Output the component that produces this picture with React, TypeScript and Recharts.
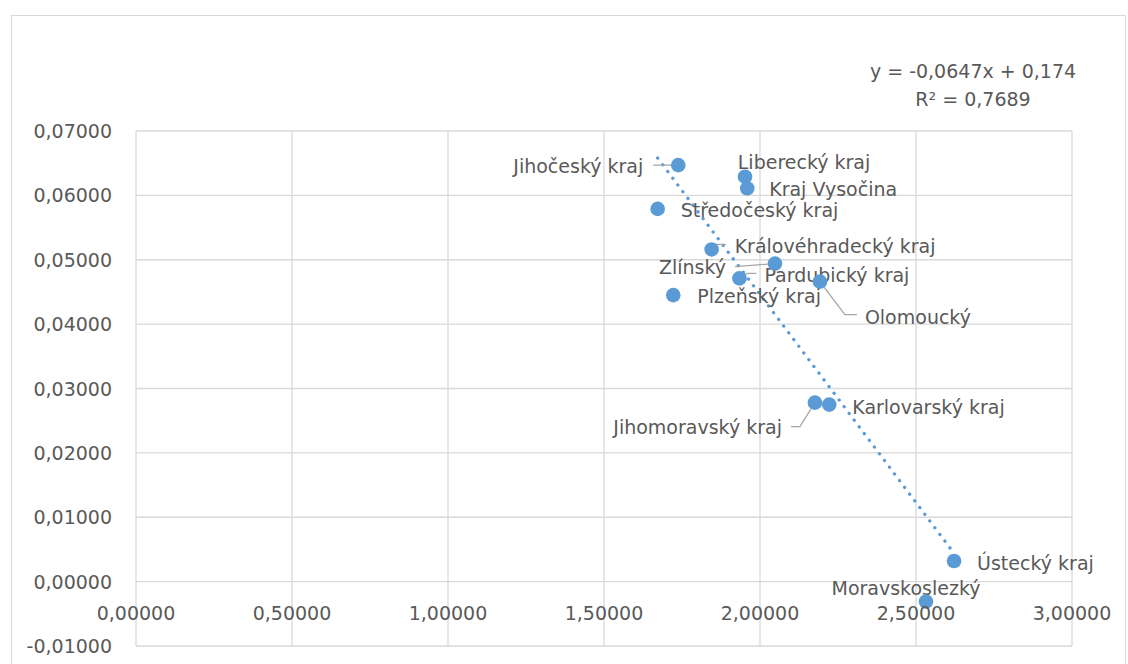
import React from "react";
import { ScatterChart, Scatter, XAxis, YAxis, CartesianGrid } from "recharts";

const regions = [
  "Jihočeský kraj",
  "Liberecký kraj",
  "Kraj Vysočina",
  "Středočeský kraj",
  "Královéhradecký kraj",
  "Zlínský",
  "Pardubický kraj",
  "Plzeňský kraj",
  "Olomoucký",
  "Jihomoravský kraj",
  "Karlovarský kraj",
  "Ústecký kraj",
  "Moravskoslezký",
];
const xValues = [1.738, 1.952, 1.959, 1.672, 1.845, 2.048, 1.934, 1.722, 2.192, 2.176, 2.222, 2.622, 2.532];
const yValues = [0.0647, 0.0629, 0.0611, 0.0579, 0.0516, 0.0494, 0.0471, 0.0445, 0.0466, 0.0278, 0.0275, 0.0032, -0.0031];

const xTicks = [0, 0.5, 1, 1.5, 2, 2.5, 3];
const yTicks = [-0.01, 0, 0.01, 0.02, 0.03, 0.04, 0.05, 0.06, 0.07];

const trendX = [1.672, 2.622];
const trendY = [0.0658, 0.0044];
const equationText = "y = -0,0647x + 0,174";
const r2Text = "R² = 0,7689";

const data = regions.map((name, i) => ({ name, x: xValues[i], y: yValues[i] }));
const trendData = trendX.map((x, i) => ({ x, y: trendY[i] }));

const FONT = "DejaVu Sans";
const FS = 19;
const TEXT = "#595959";
const GRID = "#D9D9D9";
const BLUE = "#5B9BD5";
const LEADER = "#A6A6A6";

type Layout = { anchor: "start" | "middle" | "end"; dx: number; dy: number; leader?: number[][] };
const labelLayout: Record<string, Layout> = {
  "Jihočeský kraj": { anchor: "end", dx: -35, dy: 1, leader: [[-25, 0], [0, 0]] },
  "Liberecký kraj": { anchor: "middle", dx: 59, dy: -15 },
  "Kraj Vysočina": { anchor: "start", dx: 22, dy: 1 },
  "Středočeský kraj": { anchor: "start", dx: 23, dy: 1 },
  "Královéhradecký kraj": { anchor: "start", dx: 23, dy: -3, leader: [[0, 0], [5, -5], [14, -5]] },
  "Zlínský": { anchor: "end", dx: -49, dy: 3, leader: [[-40, 3], [0, 0]] },
  "Pardubický kraj": { anchor: "start", dx: 25, dy: -3, leader: [[17, -5], [8, -5], [0, 0]] },
  "Plzeňský kraj": { anchor: "start", dx: 24, dy: 1 },
  "Olomoucký": { anchor: "start", dx: 45, dy: 35, leader: [[0, 0], [25, 33], [37, 33]] },
  "Jihomoravský kraj": { anchor: "end", dx: -33, dy: 24, leader: [[-24, 24], [-15, 24], [0, 0]] },
  "Karlovarský kraj": { anchor: "start", dx: 23, dy: 2 },
  "Ústecký kraj": { anchor: "start", dx: 23, dy: 2 },
  "Moravskoslezký": { anchor: "middle", dx: -20, dy: -14 },
};

const fmt = (v: number) => {
  const s = Math.abs(v).toFixed(5).replace(".", ",");
  return (v < -1e-9 ? "-" : "") + s;
};

const LabelShape = (props: any) => {
  const { cx, cy, payload } = props;
  const l = labelLayout[payload.name];
  if (!l || cx == null) return null;
  return (
    <g>
      {l.leader && (
        <polyline
          points={l.leader.map((p) => `${cx + p[0]},${cy + p[1]}`).join(" ")}
          fill="none"
          stroke={LEADER}
          strokeWidth={1.3}
        />
      )}
      <text
        x={cx + l.dx}
        y={cy + l.dy}
        textAnchor={l.anchor}
        dominantBaseline="central"
        fontFamily={FONT}
        fontSize={FS}
        fill={TEXT}
      >
        {payload.name}
      </text>
    </g>
  );
};

const PointShape = (props: any) => {
  const { cx, cy } = props;
  if (cx == null) return null;
  return <circle cx={cx} cy={cy} r={7.3} fill={BLUE} />;
};

const XTick = (props: any) => {
  const { x, y, payload } = props;
  return (
    <text x={x} y={y - 33} textAnchor="middle" dominantBaseline="central" fontFamily={FONT} fontSize={FS} fill={TEXT}>
      {fmt(payload.value)}
    </text>
  );
};

const YTick = (props: any) => {
  const { x, y, payload } = props;
  return (
    <text x={x} y={y} textAnchor="end" dominantBaseline="central" fontFamily={FONT} fontSize={FS} fill={TEXT}>
      {fmt(payload.value)}
    </text>
  );
};

export default function App() {
  return (
    <div
      style={{
        position: "fixed",
        left: 0,
        top: 0,
        width: 1128,
        height: 664,
        overflow: "hidden",
        background: "#fff",
      }}
    >
      <div
        style={{
          position: "absolute",
          left: 11,
          top: 15,
          width: 1115,
          height: 700,
          border: `1px solid ${GRID}`,
          boxSizing: "border-box",
        }}
      />
      <div style={{ position: "absolute", left: 0, top: 0 }}>
        <ScatterChart width={1128} height={664} margin={{ top: 131, right: 56, bottom: 0, left: 0 }}>
          <CartesianGrid stroke={GRID} strokeWidth={1.3} horizontal vertical />
          <XAxis
            type="number"
            dataKey="x"
            domain={[0, 3]}
            ticks={xTicks}
            height={18}
            axisLine={false}
            tickLine={false}
            tickSize={0}
            tickMargin={0}
            tick={<XTick />}
            interval={0}
          />
          <YAxis
            type="number"
            dataKey="y"
            domain={[-0.01, 0.07]}
            ticks={yTicks}
            width={136}
            axisLine={false}
            tickLine={false}
            tickSize={0}
            tickMargin={24}
            tick={<YTick />}
            interval={0}
          />
          <Scatter
            data={trendData}
            line={{ stroke: BLUE, strokeWidth: 3.3, strokeDasharray: "0.1 8.3", strokeLinecap: "round" }}
            shape={() => null}
            isAnimationActive={false}
          />
          <Scatter data={data} shape={<LabelShape />} isAnimationActive={false} />
          <Scatter data={data} shape={<PointShape />} isAnimationActive={false} />
          <text x={973} y={71} textAnchor="middle" dominantBaseline="central" fontFamily={FONT} fontSize={FS} fill={TEXT}>
            {equationText}
          </text>
          <text x={973} y={99} textAnchor="middle" dominantBaseline="central" fontFamily={FONT} fontSize={FS} fill={TEXT}>
            {r2Text}
          </text>
        </ScatterChart>
      </div>
    </div>
  );
}
